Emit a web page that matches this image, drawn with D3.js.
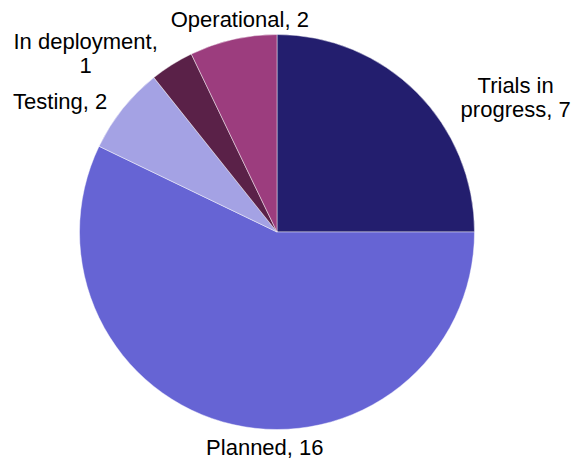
<!DOCTYPE html>
<html lang="en">
<head>
    <meta charset="utf-8">
    <style type="text/css">
        body { margin: 0; background: #fff; }
        .label {
            font-family: "Liberation Sans", Arial, sans-serif;
            font-size: 22px;
            fill: #000;
        }
    </style>
</head>
<body>
<svg width="574" height="461"></svg>

<script src="https://cdnjs.cloudflare.com/ajax/libs/d3/7.8.5/d3.min.js"></script>
<script type="text/javascript">
    // chart data
    var categories = ["Trials in progress", "Planned", "Testing", "In deployment", "Operational"];
    var values = [7, 16, 2, 1, 2];
    var colors = ["#231e6e", "#6664d4", "#a4a2e4", "#5a2148", "#9c3d7e"];
    // how each label breaks into lines
    var labelLines = [["Trials in", "progress, 7"], ["Planned, 16"], ["Testing, 2"], ["In deployment,", "1"], ["Operational, 2"]];

    // label nudges from the outer centroid (layout only)
    var labelNudge = [[76, 24], [39, -1], [-37, 20], [-69, 12], [14, 19]];

    var svg = d3.select("svg"),
        cx = 277,
        cy = 232,
        radius = 197.5;

    var data = categories.map(function (c, i) {
        return { name: c, value: values[i], color: colors[i], lines: labelLines[i], nudge: labelNudge[i] };
    });

    var pie = d3.pie()
        .sort(null)
        .value(function (d) { return d.value; });

    var arc = d3.arc()
        .innerRadius(0)
        .outerRadius(radius);

    var labelArc = d3.arc()
        .innerRadius(230)
        .outerRadius(230);

    var g = svg.append("g")
        .attr("transform", "translate(" + cx + "," + cy + ")");

    var arcs = pie(data);

    g.selectAll(".slice")
        .data(arcs)
        .enter()
        .append("path")
        .attr("class", "slice")
        .attr("d", arc)
        .attr("fill", function (d) { return d.data.color; })
        .attr("stroke", "#ffffff")
        .attr("stroke-opacity", 0.6)
        .attr("stroke-width", 0.75);

    var labels = g.selectAll(".label")
        .data(arcs)
        .enter()
        .append("text")
        .attr("class", "label")
        .attr("text-anchor", "middle")
        .attr("transform", function (d) {
            var c = labelArc.centroid(d);
            return "translate(" + (c[0] + d.data.nudge[0]) + "," + (c[1] + d.data.nudge[1]) + ")";
        });

    labels.selectAll("tspan")
        .data(function (d) { return d.data.lines; })
        .enter()
        .append("tspan")
        .attr("x", 0)
        .attr("dy", function (d, i) { return i === 0 ? 0 : 23.5; })
        .text(function (d) { return d; });
</script>
</body>
</html>
